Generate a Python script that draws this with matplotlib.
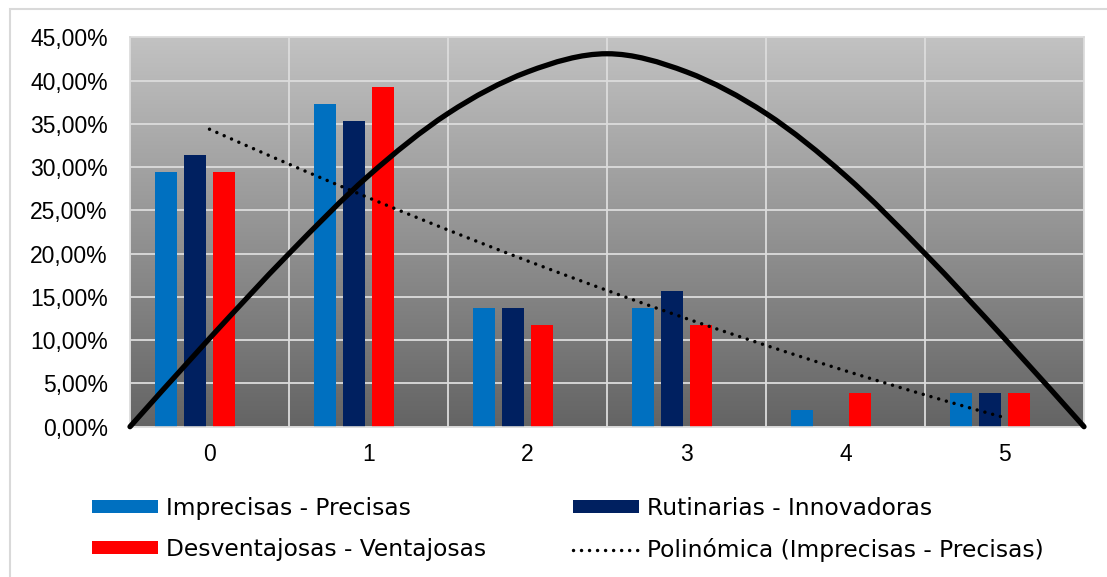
import numpy as np
import matplotlib
matplotlib.use("Agg")
import matplotlib.pyplot as plt
from matplotlib.path import Path
from matplotlib.patches import PathPatch, Rectangle
from matplotlib.ticker import FuncFormatter
from matplotlib.colors import LinearSegmentedColormap

plt.rcParams['font.family'] = ['Liberation Sans', 'DejaVu Sans']

# ---------------- data ----------------
categories = [0, 1, 2, 3, 4, 5]
imprecisas_precisas = [0.2941, 0.3725, 0.1373, 0.1373, 0.0196, 0.0392]
rutinarias_innovadoras = [0.3137, 0.3529, 0.1373, 0.1569, 0.0, 0.0392]
desventajosas_ventajosas = [0.2941, 0.3922, 0.1176, 0.1176, 0.0392, 0.0392]
series_names = ["Imprecisas - Precisas", "Rutinarias - Innovadoras",
                "Desventajosas - Ventajosas"]
trend_name = "Polinómica (Imprecisas - Precisas)"
# black bell curve
curve_x = [-0.5, 0.0, 0.5, 1.0, 1.5, 2.0, 2.5, 3.0, 3.5, 4.0, 4.5, 5.0, 5.5]
curve_y = [0.0, 0.102, 0.200, 0.290, 0.362, 0.410, 0.431,
           0.410, 0.362, 0.290, 0.200, 0.102, 0.0]
y_ticks = [0, 0.05, 0.10, 0.15, 0.20, 0.25, 0.30, 0.35, 0.40, 0.45]

colors = ["#0070C0", "#002060", "#FF0000"]

W, H = 1107, 577
fig = plt.figure(figsize=(W / 100, H / 100), dpi=100)
fig.patch.set_facecolor("white")

# outer chart border
fig.add_artist(Rectangle((10 / W, -0.05), 1.2, (H - 9) / H + 0.05,
                         transform=fig.transFigure, fill=False,
                         edgecolor="#D9D9D9", linewidth=1.5))

L, R, T, B = 130, 1084, 37.3, 426.7
ax = fig.add_axes([L / W, 1 - B / H, (R - L) / W, (B - T) / H])

# gradient background (dark at bottom, light at top)
grad = np.linspace(0, 1, 256).reshape(-1, 1)
cmap = LinearSegmentedColormap.from_list("g", ["#646464", "#C2C2C2"])
ax.imshow(grad, extent=(-0.5, 5.5, 0, 0.45), aspect="auto", cmap=cmap,
          zorder=0, origin="lower")
ax.set_xlim(-0.5, 5.5)
ax.set_ylim(0, 0.45)

# grid
ax.set_yticks(y_ticks)
ax.set_xticks(categories)
ax.set_xticks(np.arange(-0.5, 6, 1.0), minor=True)
ax.grid(True, which="major", axis="y", color="#DCDCDC", linewidth=1.3, zorder=1)
ax.grid(True, which="minor", axis="x", color="#DCDCDC", linewidth=1.3, zorder=1)
ax.set_axisbelow(True)

x = np.arange(len(categories))
bw = 0.143
offsets = [-0.274, -0.091, 0.091]
data = [imprecisas_precisas, rutinarias_innovadoras, desventajosas_ventajosas]
handles = []
for vals, off, c, name in zip(data, offsets, colors, series_names):
    h = ax.bar(x + off, vals, width=bw, color=c, label=name, zorder=2)
    handles.append(h)

# polynomial trendline (order 2) of first series
coef = np.polyfit(np.arange(1, 7), imprecisas_precisas, 2)
xt = np.linspace(1, 6, 200)
trend, = ax.plot(xt - 1, np.polyval(coef, xt), color="black", linewidth=2.5,
                 linestyle=(0, (0.01, 2.3)), dash_capstyle="round",
                 label=trend_name, zorder=4)

# smooth black curve (Catmull-Rom -> cubic Bezier)
P = np.column_stack([curve_x, curve_y])
verts = [tuple(P[0])]
codes = [Path.MOVETO]
n = len(P)
for i in range(n - 1):
    p0 = P[i - 1] if i > 0 else P[i]
    p1 = P[i]
    p2 = P[i + 1]
    p3 = P[i + 2] if i + 2 < n else P[i + 1]
    c1 = p1 + (p2 - p0) / 6.0
    c2 = p2 - (p3 - p1) / 6.0
    verts += [tuple(c1), tuple(c2), tuple(p2)]
    codes += [Path.CURVE4] * 3
ax.add_patch(PathPatch(Path(verts, codes), facecolor="none", edgecolor="black",
                       linewidth=3.8, zorder=5, clip_on=False,
                       capstyle="round"))

# axes styling
for s in ax.spines.values():
    s.set_color("#D9D9D9")
    s.set_linewidth(1.2)
ax.tick_params(axis="both", which="both", length=0)
ax.tick_params(axis="y", pad=16, labelsize=16.5, labelcolor="black")
ax.tick_params(axis="x", pad=12, labelsize=16.5, labelcolor="black")
ax.yaxis.set_major_formatter(FuncFormatter(
    lambda v, p: f"{v * 100:.2f}%".replace(".", ",")))

# legend
order = [handles[0], handles[2], handles[1], trend]
labels = [series_names[0], series_names[2], series_names[1], trend_name]
leg = fig.legend(order, labels, loc="upper left",
                 bbox_to_anchor=(92 / W, 1 - 497 / H), ncol=2, frameon=False,
                 prop={"family": "DejaVu Sans", "size": 16.8},
                 handlelength=2.83, handleheight=0.47,
                 handletextpad=0.36, columnspacing=3.7, labelspacing=0.78,
                 borderpad=0, borderaxespad=0)

fig.savefig("out.png", dpi=100, facecolor="white")
